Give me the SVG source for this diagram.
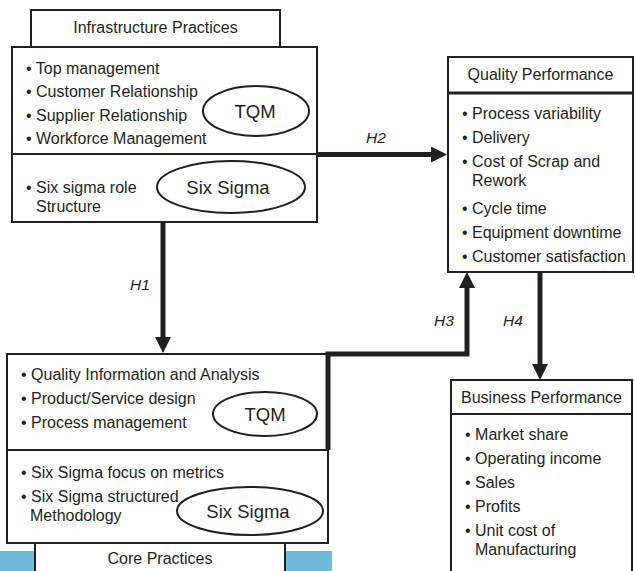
<svg xmlns="http://www.w3.org/2000/svg" width="635" height="571" viewBox="0 0 635 571">
<style>
.box{fill:#fff;stroke:#231f20;stroke-width:2}
.div{stroke:#231f20;stroke-width:2}
.ell{fill:none;stroke:#231f20;stroke-width:2}
text{font-family:"Liberation Sans",Arial,Helvetica,sans-serif;fill:#231f20}
.t{font-size:16px}
.c{text-anchor:middle}
.e{font-size:18.5px;text-anchor:middle}
.h{font-size:15.5px;font-style:italic}
.con{fill:none;stroke:#231f20;stroke-width:5;stroke-linejoin:miter}
</style>
<defs>
<marker id="ah" viewBox="0 0 16 16" refX="4" refY="8" markerWidth="16" markerHeight="16" markerUnits="userSpaceOnUse" orient="auto">
<path d="M0,0 L16,8 L0,16 Z" fill="#231f20"/>
</marker>
</defs>
<rect x="0" y="551" width="332" height="20" fill="#6cb9d8"/>
<g id="infrastructure">
<rect class="box" x="31" y="10" width="249" height="37"/>
<text class="t c" x="155.5" y="33">Infrastructure Practices</text>
<rect class="box" x="12" y="47" width="305" height="175"/>
<line class="div" x1="12" y1="154" x2="317" y2="154"/>
<text class="t" x="26" y="73.5">• Top management</text>
<text class="t" x="26" y="97">• Customer Relationship</text>
<text class="t" x="26" y="120.5">• Supplier Relationship</text>
<text class="t" x="26" y="144">• Workforce Management</text>
<ellipse class="ell" cx="256" cy="111" rx="53" ry="25"/>
<text class="e" x="255" y="117.5">TQM</text>
<text class="t" x="26" y="193">• Six sigma role</text>
<text class="t" x="36" y="212">Structure</text>
<ellipse class="ell" cx="231" cy="187" rx="74" ry="26"/>
<text class="e" x="228" y="193.5">Six Sigma</text>
</g>
<g id="core">
<rect class="box" x="7" y="354" width="321" height="189"/>
<line class="div" x1="7" y1="450" x2="328" y2="450"/>
<text class="t" x="21" y="380">• Quality Information and Analysis</text>
<text class="t" x="21" y="404">• Product/Service design</text>
<text class="t" x="21" y="428">• Process management</text>
<ellipse class="ell" cx="265" cy="414" rx="52" ry="22"/>
<text class="e" x="265" y="420.5">TQM</text>
<text class="t" x="21" y="478">• Six Sigma focus on metrics</text>
<text class="t" x="21" y="502">• Six Sigma structured</text>
<text class="t" x="30" y="521">Methodology</text>
<ellipse class="ell" cx="250" cy="511" rx="73" ry="24"/>
<text class="e" x="248" y="517.5">Six Sigma</text>
<rect class="box" x="35" y="543" width="250" height="34"/>
<text class="t c" x="160" y="564">Core Practices</text>
</g>
<g id="quality">
<rect class="box" x="448" y="57" width="185" height="215"/>
<line x1="448" y1="93" x2="633" y2="93" stroke="#231f20" stroke-width="3"/>
<text class="t c" x="540.5" y="80">Quality Performance</text>
<text class="t" x="462" y="118.5">• Process variability</text>
<text class="t" x="462" y="143">• Delivery</text>
<text class="t" x="462" y="167">• Cost of Scrap and</text>
<text class="t" x="472" y="186">Rework</text>
<text class="t" x="462" y="213.5">• Cycle time</text>
<text class="t" x="462" y="237.5">• Equipment downtime</text>
<text class="t" x="462" y="262">• Customer satisfaction</text>
</g>
<g id="business">
<rect class="box" x="451" y="380" width="181" height="200"/>
<line class="div" x1="451" y1="414" x2="632" y2="414"/>
<text class="t c" x="541.5" y="403">Business Performance</text>
<text class="t" x="465" y="440">• Market share</text>
<text class="t" x="465" y="464">• Operating income</text>
<text class="t" x="465" y="488">• Sales</text>
<text class="t" x="465" y="512">• Profits</text>
<text class="t" x="465" y="536">• Unit cost of</text>
<text class="t" x="475" y="555">Manufacturing</text>
</g>
<g id="connectors">
<path class="con" d="M163,222 L163,341" marker-end="url(#ah)"/>
<text class="h" x="130" y="290">H1</text>
<path class="con" d="M317,154.5 L435,154.5" marker-end="url(#ah)"/>
<text class="h" x="366" y="143">H2</text>
<path class="con" d="M328,450 L328,354 L467,354 L467,284" marker-end="url(#ah)"/>
<text class="h" x="434" y="326">H3</text>
<path class="con" d="M540,272 L540,368" marker-end="url(#ah)"/>
<text class="h" x="503" y="326">H4</text>
</g>
</svg>
